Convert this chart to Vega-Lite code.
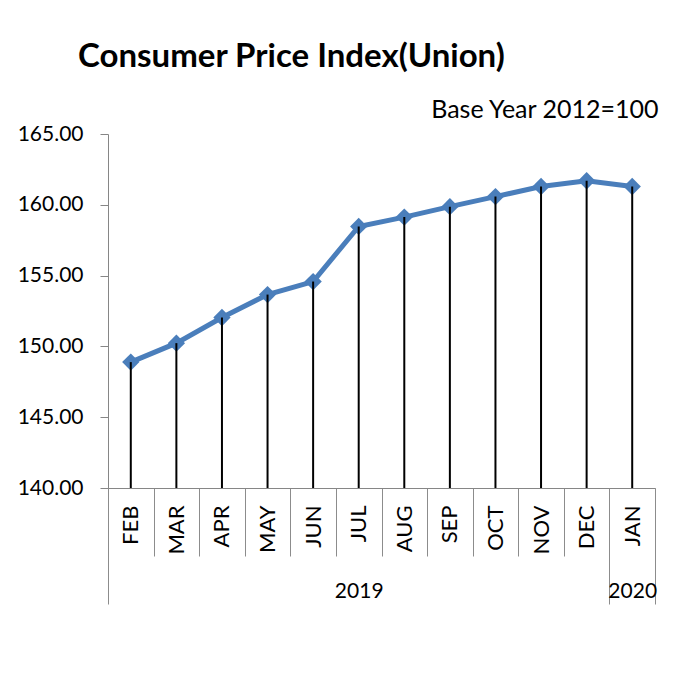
{
  "$schema": "https://vega.github.io/schema/vega-lite/v6.json",
  "width": 547,
  "height": 354,
  "autosize": {"type": "none"},
  "padding": {"left": 108, "top": 134, "right": 42, "bottom": 185},
  "background": "white",
  "config": {"view": {"stroke": null}, "font": "Lato"},
  "title": {
    "text": "Consumer Price Index(Union)",
    "anchor": "start",
    "frame": "group",
    "dx": -30,
    "dy": 28,
    "offset": 25,
    "baseline": "alphabetic",
    "font": "Lato",
    "fontSize": 33,
    "fontWeight": "bold",
    "color": "black"
  },
  "datasets": {
    "cpi": [
      {"month": "FEB", "year": "2019", "cpi": 148.89},
      {"month": "MAR", "year": "2019", "cpi": 150.23},
      {"month": "APR", "year": "2019", "cpi": 152.04},
      {"month": "MAY", "year": "2019", "cpi": 153.66},
      {"month": "JUN", "year": "2019", "cpi": 154.58},
      {"month": "JUL", "year": "2019", "cpi": 158.47},
      {"month": "AUG", "year": "2019", "cpi": 159.13},
      {"month": "SEP", "year": "2019", "cpi": 159.87},
      {"month": "OCT", "year": "2019", "cpi": 160.58},
      {"month": "NOV", "year": "2019", "cpi": 161.29},
      {"month": "DEC", "year": "2019", "cpi": 161.70},
      {"month": "JAN", "year": "2020", "cpi": 161.29}
    ],
    "years": [
      {"year": "2019", "start": 0, "end": 11, "mid": 5.5},
      {"year": "2020", "start": 11, "end": 12, "mid": 11.5}
    ]
  },
  "layer": [
    {
      "data": {"name": "cpi"},
      "encoding": {
        "x": {
          "field": "month",
          "type": "nominal",
          "sort": null,
          "scale": {"paddingInner": 0, "paddingOuter": 0},
          "axis": {
            "title": null,
            "tickBand": "extent",
            "tickSize": 68,
            "tickColor": "#8c8c8c",
            "domainColor": "#868686",
            "labelAngle": 270,
            "labelAlign": "right",
            "labelBaseline": "middle",
            "labelPadding": -51,
            "labelFont": "Lato",
            "labelFontSize": 22,
            "labelColor": "black",
            "labelOverlap": false,
            "grid": false
          }
        },
        "y": {
          "field": "cpi",
          "type": "quantitative",
          "scale": {"domain": [140, 165], "zero": false, "nice": false},
          "axis": {
            "values": [140, 145, 150, 155, 160, 165],
            "format": ".2f",
            "grid": false,
            "tickSize": 8,
            "tickColor": "#868686",
            "domainColor": "#868686",
            "labelPadding": 17,
            "labelFont": "Lato",
            "labelFontSize": 21,
            "labelColor": "black",
            "title": "Base Year 2012=100",
            "titleAngle": 0,
            "titleAlign": "right",
            "titleBaseline": "alphabetic",
            "titleX": 550,
            "titleY": -17,
            "titleFont": "Lato",
            "titleFontSize": 25,
            "titleFontWeight": "normal",
            "titleColor": "black"
          }
        }
      },
      "layer": [
        {"mark": {"type": "line", "color": "#4a7ebb", "strokeWidth": 5}},
        {"mark": {"type": "point", "shape": "diamond", "filled": true, "size": 300, "color": "#4a7ebb", "opacity": 1}},
        {"mark": {"type": "rule", "color": "black", "strokeWidth": 2}, "encoding": {"y2": {"datum": 140}}}
      ]
    },
    {
      "data": {"name": "years"},
      "mark": {"type": "point", "opacity": 0},
      "encoding": {
        "x": {
          "field": "start",
          "type": "quantitative",
          "scale": {"domain": [0, 12], "nice": false, "zero": false},
          "axis": {
            "orient": "bottom",
            "values": [0, 11, 12],
            "labels": false,
            "domain": false,
            "ticks": true,
            "tickSize": 116,
            "tickColor": "#8c8c8c",
            "grid": false,
            "title": null
          }
        }
      }
    },
    {
      "data": {"name": "years"},
      "mark": {"type": "point", "opacity": 0},
      "encoding": {
        "x": {
          "field": "mid",
          "type": "quantitative",
          "scale": {"domain": [0, 12], "nice": false, "zero": false},
          "axis": {
            "orient": "bottom",
            "values": [5.5, 11.5],
            "labelExpr": "datum.value < 11 ? '2019' : '2020'",
            "ticks": false,
            "domain": false,
            "grid": false,
            "labelPadding": 109,
            "labelBaseline": "alphabetic",
            "labelFont": "Lato",
            "labelFontSize": 21,
            "labelColor": "black",
            "labelOverlap": false,
            "labelFlush": false,
            "title": null
          }
        }
      }
    }
  ],
  "resolve": {"scale": {"x": "independent"}, "axis": {"x": "independent"}}
}
